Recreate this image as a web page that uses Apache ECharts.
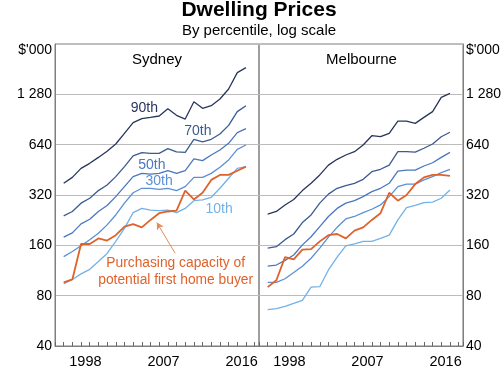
<!DOCTYPE html>
<html>
<head>
<meta charset="utf-8">
<script src="https://cdn.jsdelivr.net/npm/echarts@6/dist/echarts.min.js"></script>
<style>html,body{margin:0;padding:0;background:#fff}#c{width:504px;height:374px}</style>
</head>
<body>
<div id="c"></div>
<script>
const years = [1996,1997,1998,1999,2000,2001,2002,2003,2004,2005,2006,2007,2008,2009,2010,2011,2012,2013,2014,2015,2016,2017];
const xTickLabels = [1998, 2007, 2016];
const yTickValues = [40, 80, 160, 320, 640, 1280, 2560];
const yTickLabels = ['40', '80', '160', '320', '640', '1 280', "$'000"];

const sydney90 = [376,408,462,495,537,584,646,748,866,915,932,950,1050,959,911,1157,1056,1095,1200,1377,1725,1848];
const sydney70 = [240,255,286,306,340,367,412,473,548,573,568,568,606,579,576,689,664,689,741,835,1009,1095];
const sydney50 = [179,190,215,229,255,277,313,359,412,431,427,431,447,431,447,526,514,555,595,652,755,798];
const sydney30 = [137,147,159,173,189,212,243,286,330,351,351,346,351,340,359,408,408,431,469,519,600,637];
const sydney10 = [94,100,108,115,128,143,169,202,251,266,260,258,260,251,266,296,299,310,351,403,462,473];
const sydneyFHB = [96,100,163,163,176,171,184,207,214,205,227,249,255,258,340,301,330,394,422,422,447,473];

const melb90 = [246,255,279,301,340,376,422,483,523,555,581,637,724,714,748,886,886,858,932,1009,1228,1298];
const melb70 = [154,157,173,187,219,243,286,324,351,364,376,397,441,456,483,581,581,577,609,646,714,759];
const melb50 = [120,122,130,140,161,180,207,238,266,286,296,313,335,351,376,445,451,451,477,499,537,576];
const melb30 = [96,96,101,110,120,134,154,179,205,230,238,251,263,279,313,359,372,372,394,412,435,456];
const melb10 = [66,67,69,72,75,90,90.5,114,136,159,163,169,169,176,184,227,269,277,288,290,306,343];
const melbFHB = [90,99,136,132,151,152,169,184,187,176,196,205,227,249,330,296,320,372,408,422,422,416];

const pctLabels = ['90th','70th','50th','30th','10th'];
const fhbLabel = 'Purchasing capacity of\npotential first home buyer';

const colors = ['#28365c','#3b5b8f','#4a77bf','#5b8fd6','#72b2e8'];
const orange = '#e0622b';
const FONT = "'Liberation Sans', Arial, sans-serif";

const chart = echarts.init(document.getElementById('c'), null, {renderer:'canvas'});

function xy(arr){ return years.map((y,i)=>[y, arr[i]]); }

function yFmt(v){
  const r = Math.round(v);
  const i = yTickValues.indexOf(r);
  if (i < 0) return '';
  if (r === 2560) return '{u|' + yTickLabels[i] + '}';
  return yTickLabels[i];
}

function xAxesFor(g){
  return [
    {type:'value', gridIndex:g, position:'bottom', min:1995, max:2018.5, interval:1,
     axisLine:{show:true, lineStyle:{color:'#7f7f7f', width:1}},
     axisTick:{show:true, inside:true, length:4, lineStyle:{color:'#666'}},
     axisLabel:{show:false}, splitLine:{show:false}},
    {type:'value', gridIndex:g, position:'bottom', offset:0, min:1995, max:2018.5, interval:0.5,
     axisLine:{show:false}, axisTick:{show:false}, splitLine:{show:false},
     axisLabel:{show:true, margin:8, fontSize:14.5, color:'#000', fontFamily:FONT,
       formatter:function(v){ const y = v - 0.5; return xTickLabels.indexOf(Math.round(y*10)/10) >= 0 ? String(y) : ''; }}}
  ];
}

function yAxisFor(g, pos){
  return {type:'log', logBase:2, gridIndex:g, min:40, max:2560, position:pos,
    axisLine:{show:true, lineStyle:{color:'#7f7f7f', width:1}},
    axisTick:{show:false, customValues:yTickValues},
    axisLabel:{show:true, customValues:yTickValues, margin:3, fontSize:14, color:'#000', fontFamily:FONT,
      formatter:yFmt, rich:{u:{fontSize:14, color:'#000', fontFamily:FONT, padding:[12,0,0,0]}}},
    splitLine:{show:true, lineStyle:{color:'#bcbcbc', width:1}}
  };
}

const pctData = {
  syd:[sydney90, sydney70, sydney50, sydney30, sydney10],
  mel:[melb90, melb70, melb50, melb30, melb10]
};

// label anchor points in data coordinates (year, $'000)
const pctLabelCoords = [[2005.3,1058],[2011.45,767],[2006.15,480],[2007.0,385],[2013.9,265]];
const fhbLabelCoord = [2008.9,111];
const arrowFrom = [2008.84,143.5];
const arrowTo = [2006.73,219];

const series = [];
['syd','mel'].forEach(function(city, ci){
  pctData[city].forEach(function(arr, k){
    const s = {type:'line', xAxisIndex:ci*2, yAxisIndex:ci, data:xy(arr), symbol:'none',
      lineStyle:{color:colors[k], width:1.3}, itemStyle:{color:colors[k]}, silent:true, z:3};
    if (city === 'syd') {
      s.markPoint = {symbol:'circle', symbolSize:1, itemStyle:{color:'rgba(0,0,0,0)'}, silent:true,
        data:[{coord:pctLabelCoords[k], value:pctLabels[k],
          label:{show:true, position:'inside', formatter:pctLabels[k], color:colors[k], fontSize:14, fontFamily:FONT}}]};
    }
    series.push(s);
  });
  const f = {type:'line', xAxisIndex:ci*2, yAxisIndex:ci, data:xy(city==='syd'?sydneyFHB:melbFHB), symbol:'none',
    lineStyle:{color:orange, width:1.8}, itemStyle:{color:orange}, silent:true, z:4};
  if (city === 'syd') {
    f.markPoint = {symbol:'circle', symbolSize:1, itemStyle:{color:'rgba(0,0,0,0)'}, silent:true,
      data:[{coord:fhbLabelCoord, value:1,
        label:{show:true, position:'inside', formatter:fhbLabel, color:orange, fontSize:13.8, lineHeight:17, fontFamily:FONT, align:'center'}}]};
    f.markLine = {silent:true, symbol:['none','arrow'], symbolSize:[6,7], label:{show:false},
      lineStyle:{color:'#e58a5c', width:1, type:'solid'},
      data:[[{coord:arrowFrom},{coord:arrowTo}]]};
  }
  series.push(f);
});

chart.setOption({
  animation:false,
  backgroundColor:'#fff',
  textStyle:{fontFamily:FONT},
  title:[
    {text:'Dwelling Prices', left:259, top:0, textAlign:'center', padding:0,
     textStyle:{fontSize:21, fontWeight:'bold', color:'#000', fontFamily:FONT}},
    {text:'By percentile, log scale', left:259, top:23, textAlign:'center', padding:0,
     textStyle:{fontSize:15, fontWeight:'normal', color:'#000', fontFamily:FONT}},
    {text:'Sydney', left:157, top:52, textAlign:'center', padding:0,
     textStyle:{fontSize:15, fontWeight:'normal', color:'#000', fontFamily:FONT}},
    {text:'Melbourne', left:361.5, top:52, textAlign:'center', padding:0,
     textStyle:{fontSize:15, fontWeight:'normal', color:'#000', fontFamily:FONT}}
  ],
  grid:[
    {left:55, top:44, width:204, height:302, show:true, borderColor:'#7f7f7f', borderWidth:1, backgroundColor:'rgba(0,0,0,0)'},
    {left:259, top:44, width:205, height:302, show:true, borderColor:'#7f7f7f', borderWidth:1, backgroundColor:'rgba(0,0,0,0)'}
  ],
  xAxis: xAxesFor(0).concat(xAxesFor(1)),
  yAxis:[yAxisFor(0,'left'), yAxisFor(1,'right')],
  series: series
});
</script>
</body>
</html>
